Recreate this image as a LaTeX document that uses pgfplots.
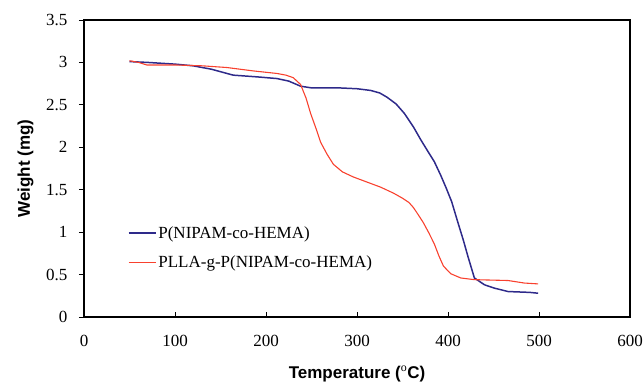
\documentclass[border=0pt]{standalone}
\usepackage{fontspec}
\setmainfont{Liberation Serif}
\newfontfamily\arialfont{Liberation Sans}
\usepackage{pgfplots}
\pgfplotsset{compat=1.18}
\definecolor{bl}{HTML}{2E2A8A}
\definecolor{rd}{HTML}{F8412E}
\begin{document}
\begin{tikzpicture}
\useasboundingbox (0,0) rectangle (643bp,384bp);
\begin{axis}[
  at={(84bp,67bp)}, anchor=south west,
  scale only axis, width=546bp, height=297bp,
  xmin=0, xmax=600, ymin=0, ymax=3.5,
  xtick={0,100,...,600}, ytick={0,0.5,...,3.5},
  xtick pos=bottom, ytick pos=left,
  xtick align=inside, ytick align=outside,
  major tick length=5bp,
  axis line style={line width=1.3pt},
  tick style={black, line width=0.8pt},
  /pgf/number format/assume math mode=true,
  ticklabel style={font=\fontsize{17bp}{19bp}\selectfont},
  xticklabel style={yshift=-15bp},
  yticklabel style={xshift=-8bp},
  yticklabel style={/pgf/number format/.cd, fixed, precision=1},
  xlabel={\arialfont\bfseries Temperature ($^{\mathrm{o}}$C)},
  ylabel={\arialfont\bfseries Weight (mg)},
  label style={font=\fontsize{17bp}{19bp}\selectfont},
  xlabel style={yshift=-12bp},
  ylabel style={yshift=6bp},
  legend style={draw=none, fill=none, at={(0.08,0.312)}, anchor=north west,
    font=\fontsize{17bp}{19bp}\selectfont, row sep=12bp, inner sep=0pt},
  legend cell align=left,
  legend image code/.code={\draw[#1] (0bp,0bp) -- (27bp,0bp);},
]
\addplot[bl, line width=1.5pt] coordinates {
(50,3.01)(70,3.00)(100,2.98)(120,2.96)(140,2.92)(164,2.85)(190,2.83)(212,2.81)
(225,2.78)(238,2.72)(250,2.70)(280,2.70)(300,2.69)(315,2.67)(325,2.64)(333,2.59)
(343,2.51)(352,2.40)(362,2.24)(370,2.09)(378,1.95)(385,1.83)(392,1.67)(398,1.52)(404,1.36)
(411,1.11)(417,0.90)(422,0.71)(429,0.46)(440,0.38)(451,0.34)(466,0.30)(490,0.29)(499,0.28)};
\addlegendentry{P(NIPAM-co-HEMA)}
\addplot[rd, line width=1.1pt] coordinates {
(50,3.02)(60,3.00)(69,2.97)(100,2.97)(130,2.96)(157,2.94)(186,2.90)(212,2.87)
(222,2.85)(230,2.82)(238,2.74)(244,2.58)(249,2.40)(255,2.22)(260,2.06)(267,1.92)
(274,1.80)(284,1.71)(296,1.65)(311,1.59)(326,1.53)(340,1.46)(350,1.40)(357,1.35)(362,1.29)(367,1.21)
(373,1.11)(379,0.99)(385,0.86)(390,0.72)(395,0.60)(403,0.51)(414,0.46)(429,0.44)
(466,0.43)(484,0.40)(499,0.39)};
\addlegendentry{PLLA-g-P(NIPAM-co-HEMA)}
\end{axis}
\end{tikzpicture}
\end{document}
